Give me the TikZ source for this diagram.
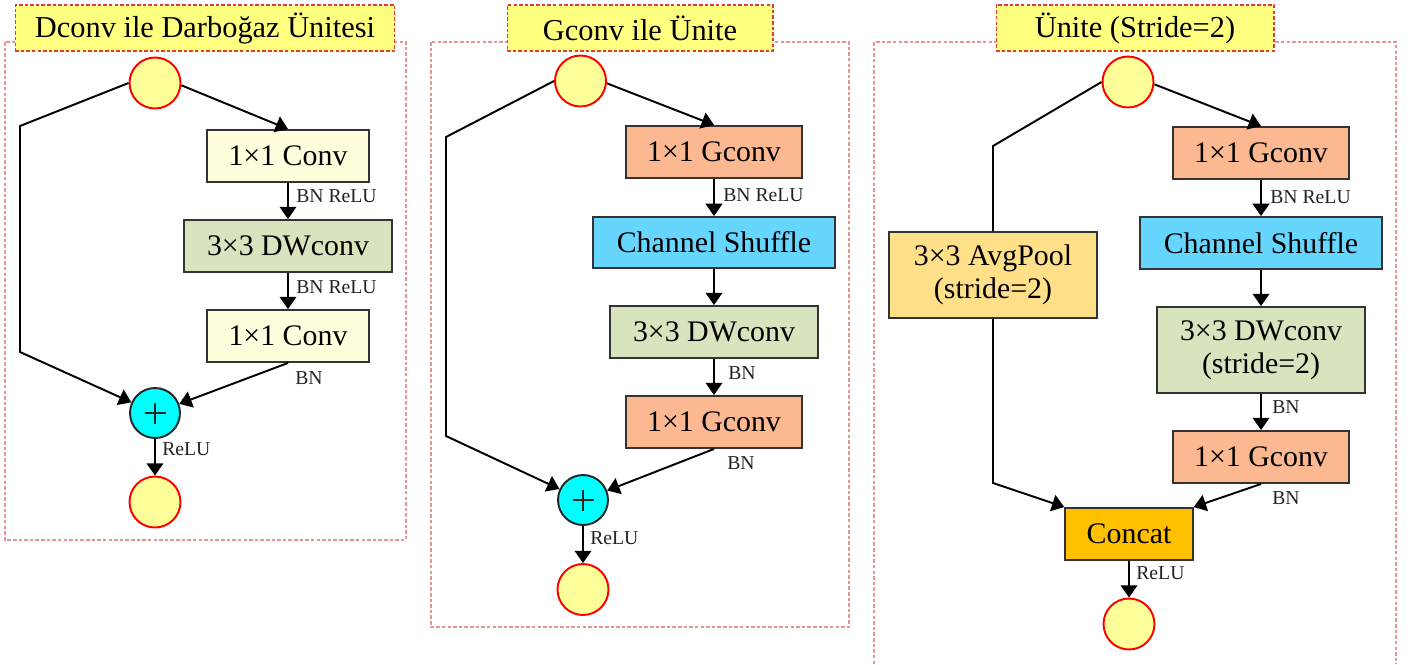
\documentclass[tikz,border=0pt]{standalone}
\usepackage{fontspec}
\setmainfont{Liberation Serif}
\usetikzlibrary{arrows.meta}
\definecolor{ttlfill}{HTML}{FFFF80}
\definecolor{ttledge}{HTML}{E03A3A}
\definecolor{framecol}{HTML}{E89494}
\definecolor{iofill}{HTML}{FFFF99}
\definecolor{convfill}{HTML}{FFFFDD}
\definecolor{dwfill}{HTML}{D7E4BD}
\definecolor{gfill}{HTML}{FCB891}
\definecolor{shuffill}{HTML}{66D6FF}
\definecolor{poolfill}{HTML}{FFDF88}
\definecolor{catfill}{HTML}{FFC000}
\definecolor{addfill}{HTML}{00FFFF}
\definecolor{lblcol}{HTML}{222222}

\tikzset{
  blk/.style={draw=black!80,line width=1.1pt,inner sep=0pt,align=center,
    minimum height=1.04cm,font=\fontsize{17}{19}\selectfont},
  tall/.style={minimum height=1.72cm},
  ttl/.style={blk,draw=ttledge,line width=0.6pt,dash pattern=on 2pt off 1.2pt,fill=ttlfill,
    minimum height=0.92cm,font=\fontsize{17.3}{19}\selectfont},
  outer/.style={draw=framecol,line width=0.7pt,dash pattern=on 2pt off 1.2pt},
  io/.style={circle,draw=red,line width=1.1pt,fill=iofill,minimum size=1.02cm,inner sep=0pt},
  add/.style={circle,draw=black!85,line width=1.1pt,fill=addfill,minimum size=1cm,inner sep=0pt,
    path picture={\draw[line width=1.6pt]
      ([xshift=-0.21cm]path picture bounding box.center) -- ([xshift=0.21cm]path picture bounding box.center)
      ([yshift=-0.21cm]path picture bounding box.center) -- ([yshift=0.21cm]path picture bounding box.center);}},
  arr/.style={-{Triangle[length=7pt,width=9.5pt]},line width=1.1pt},
  ln/.style={line width=1.1pt},
  lbl/.style={anchor=west,inner sep=0pt,text=lblcol,font=\fontsize{11.2}{12}\selectfont},
}

\begin{document}
\begin{tikzpicture}[x=0.02cm,y=-0.02cm]
\useasboundingbox (0,0) rectangle (1413,664);

% ---------- outer frames ----------
\draw[outer] (5,42) rectangle (406,540);
\draw[outer] (431,42) rectangle (849,627);
\draw[outer] (874,664) -- (874,42) -- (1396,42) -- (1396,664);

% ---------- titles ----------
\node[ttl,minimum width=7.6cm] (t1) at (205,28) {Dconv ile Darboğaz Ünitesi};
\node[ttl,minimum width=5.32cm] (t2) at (640,28) {Gconv ile Ünite};
\node[ttl,minimum width=5.56cm] (t3) at (1135,28) {Ünite (Stride=2)};

% ---------- bottleneck unit with depthwise conv ----------
\node[io] (in1) at (155,83) {};
\node[blk,fill=convfill,minimum width=3.24cm] (c1a) at (288,156) {1×1 Conv};
\node[blk,fill=dwfill,minimum width=4.15cm] (dw1) at (288,246) {3×3 DWconv};
\node[blk,fill=convfill,minimum width=3.24cm] (c1b) at (288,336) {1×1 Conv};
\node[add] (plus1) at (155,413) {};
\node[io] (out1) at (155,502) {};
\coordinate (l1a) at (20,126);
\coordinate (l1b) at (20,352);

\draw[arr] (in1.-5) -- (c1a.north);
\draw[arr] (c1a.south) -- (dw1.north);
\draw[arr] (dw1.south) -- (c1b.north);
\draw[arr] (c1b.south) -- (plus1);
\draw[arr] (in1.west) -- (l1a) -- (l1b) -- (plus1);
\draw[arr] (plus1.south) -- (out1.north);
\node[lbl] (b1a) at (296,196) {BN ReLU};
\node[lbl] (b1b) at (296,287) {BN ReLU};
\node[lbl] (b1c) at (295,378) {BN};
\node[lbl] (r1) at (162,449) {ReLU};

% ---------- unit with group conv ----------
\node[io] (in2) at (580.5,81) {};
\node[blk,fill=gfill,minimum width=3.52cm] (g2a) at (714,152) {1×1 Gconv};
\node[blk,fill=shuffill,minimum width=4.83cm,minimum height=1.02cm] (cs2) at (714,242.5) {Channel Shuffle};
\node[blk,fill=dwfill,minimum width=4.16cm] (dw2) at (714,332) {3×3 DWconv};
\node[blk,fill=gfill,minimum width=3.52cm] (g2b) at (714,422) {1×1 Gconv};
\node[add] (plus2) at (583,500) {};
\node[io] (out2) at (583,589.5) {};
\coordinate (l2a) at (446,137);
\coordinate (l2b) at (446,436);

\draw[arr] (in2.-5) -- (g2a.north);
\draw[arr] (g2a.south) -- (cs2.north);
\draw[arr] (cs2.south) -- (dw2.north);
\draw[arr] (dw2.south) -- (g2b.north);
\draw[arr] (g2b.south) -- (plus2);
\draw[arr] (in2.west) -- (l2a) -- (l2b) -- (plus2);
\draw[arr] (plus2.south) -- (out2.north);
\node[lbl] (b2a) at (723,195) {BN ReLU};
\node[lbl] (b2b) at (728,373) {BN};
\node[lbl] (b2c) at (727,463) {BN};
\node[lbl] (r2) at (590,538) {ReLU};

% ---------- stride-2 unit ----------
\node[io] (in3) at (1128,82) {};
\node[blk,tall,fill=poolfill,minimum width=4.15cm] (ap3) at (993,275) {3×3 AvgPool\\(stride=2)};
\node[blk,fill=gfill,minimum width=3.51cm] (g3a) at (1261,153) {1×1 Gconv};
\node[blk,fill=shuffill,minimum width=4.83cm] (cs3) at (1261,243) {Channel Shuffle};
\node[blk,tall,fill=dwfill,minimum width=4.15cm] (dw3) at (1261,350) {3×3 DWconv\\(stride=2)};
\node[blk,fill=gfill,minimum width=3.51cm] (g3b) at (1261,457) {1×1 Gconv};
\node[blk,fill=catfill,minimum width=2.55cm] (cc3) at (1129,534) {Concat};
\node[io] (out3) at (1129,624) {};
\coordinate (l3a) at (993,146);
\coordinate (l3b) at (993,483);

\draw[arr] (in3.-5) -- (g3a.north);
\draw[arr] (g3a.south) -- (cs3.north);
\draw[arr] (cs3.south) -- (dw3.north);
\draw[arr] (dw3.south) -- (g3b.north);
\draw[arr] (g3b.south) -- (cc3.north east);
\draw[ln] (in3.west) -- (l3a) -- (ap3.north);
\draw[arr] (ap3.south) -- (l3b) -- (cc3.north west);
\draw[arr] (cc3.south) -- (out3.north);
\node[lbl] (b3a) at (1270,197) {BN ReLU};
\node[lbl] (b3b) at (1272,407) {BN};
\node[lbl] (b3c) at (1272,498) {BN};
\node[lbl] (r3) at (1136,573) {ReLU};
\end{tikzpicture}
\end{document}
